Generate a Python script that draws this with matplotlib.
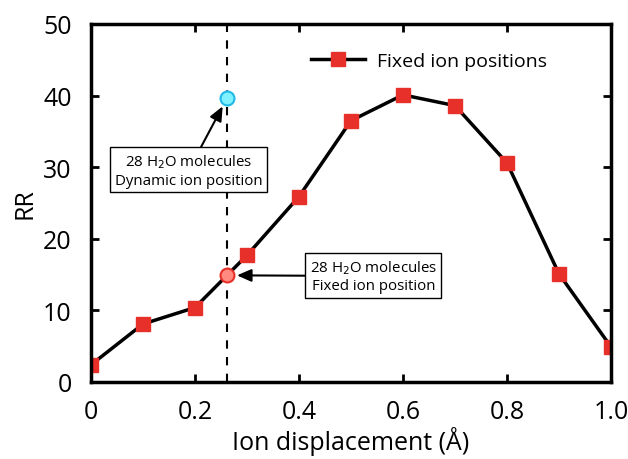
import numpy as np
import matplotlib.pyplot as plt

plt.rcParams['font.family'] = ['Open Sans', 'DejaVu Sans']

# RR vs ion displacement, fixed ion positions
disp = [0.0, 0.1, 0.2, 0.3, 0.4, 0.5, 0.6, 0.7, 0.8, 0.9, 1.0]
rr = [2.4, 8.1, 10.4, 17.7, 25.9, 36.5, 40.1, 38.6, 30.6, 15.1, 4.9]

# 28 H2O molecule runs at the equilibrium displacement
x_eq = 0.262
rr_fixed_eq = 14.9
rr_dynamic_eq = 39.7

fig = plt.figure(figsize=(6.28, 4.6), dpi=100)
ax = fig.add_axes([91/628, 77/460, 520/628, 358/460])

ax.axvline(x_eq, color='black', ls=(0, (4, 4)), lw=1.5, zorder=1)
ax.plot(disp, rr, '-s', color='black', lw=2.5, mfc='#e8302a', mec='#e8302a',
        ms=10.5, label='Fixed ion positions', zorder=2)
ax.plot(x_eq, rr_fixed_eq, 'o', ms=10, mfc='#ff8a80', mec='#e8302a', mew=1.5, zorder=3)
ax.plot(x_eq, rr_dynamic_eq, 'o', ms=10, mfc='#80f2ff', mec='#1fb8e8', mew=1.5, zorder=3)

box = dict(boxstyle='square,pad=0.3', fc='white', ec='black', lw=1)
arrow = dict(arrowstyle='-|>,head_length=0.8,head_width=0.35', color='black', lw=1.5,
             shrinkA=0, shrinkB=7)
ax.annotate('28 H$_2$O molecules\nDynamic ion position', xy=(x_eq, rr_dynamic_eq),
            xytext=(0.188, 29.6), ha='center', va='center', fontsize=10.8,
            bbox=box, arrowprops=arrow, linespacing=1.2)
ax.annotate('28 H$_2$O molecules\nFixed ion position', xy=(x_eq, rr_fixed_eq),
            xytext=(0.543, 14.8), ha='center', va='center', fontsize=10.8,
            bbox=box, arrowprops=arrow, linespacing=1.2)

ax.set_xlim(0, 1.0)
ax.set_ylim(0, 50)
ax.set_xticks([0, 0.2, 0.4, 0.6, 0.8, 1.0])
ax.set_xticklabels(['0', '0.2', '0.4', '0.6', '0.8', '1.0'])
ax.set_yticks([0, 10, 20, 30, 40, 50])
ax.tick_params(direction='in', top=True, right=True, length=6, width=2,
               labelsize=18)
ax.tick_params(axis='x', pad=12)
ax.tick_params(axis='y', pad=14)
for s in ax.spines.values():
    s.set_linewidth(2.5)

ax.set_xlabel('Ion displacement (Å)', fontsize=18, labelpad=2)
ax.set_ylabel('RR', fontsize=18, labelpad=4)

leg = ax.legend(loc='upper right', bbox_to_anchor=(0.91, 0.97), frameon=False,
                fontsize=14, handlelength=2.8, handletextpad=0.6)

fig.savefig('out.png', dpi=100)
